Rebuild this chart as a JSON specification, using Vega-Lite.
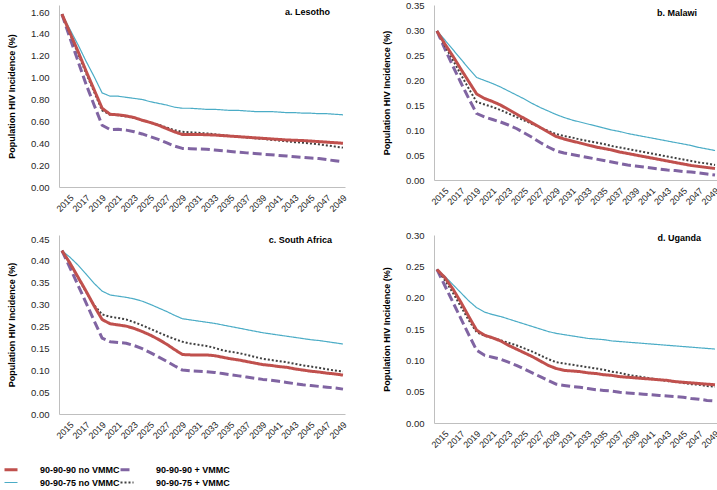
{
"$schema": "https://vega.github.io/schema/vega-lite/v6.json",
"background": "white",
"padding": {"left": 4, "top": 0, "right": 2, "bottom": 0},
"config": {
  "font": "Liberation Sans",
  "view": {"stroke": null},
  "axis": {"grid": false, "ticks": false, "labelOverlap": false, "tickCount": 60, "domainColor": "#bfbfbf", "domainWidth": 1, "labelFont": "Liberation Sans", "labelFontSize": 9.5, "labelColor": "#262626", "titleFont": "Liberation Sans", "titleFontSize": 9, "titleFontWeight": "bold", "titleColor": "#000000"},
  "axisY": {"labelPadding": 10, "titlePadding": 14},
  "axisX": {"labelPadding": 6, "labelAngle": -45, "labelFontSize": 9},
  "text": {"font": "Liberation Sans", "fontSize": 9, "fontWeight": "bold", "color": "#000000", "align": "right", "baseline": "middle"},
  "line": {"strokeCap": "butt", "strokeJoin": "round"}
},
"data": {"values": [
{"panel":"a","year":2015,"90-90-90 no VMMC":1.58,"90-90-90 + VMMC":1.58,"90-90-75 no VMMC":1.58,"90-90-75 + VMMC":1.58},
{"panel":"a","year":2016,"90-90-90 no VMMC":1.41,"90-90-90 + VMMC":1.36,"90-90-75 no VMMC":1.44,"90-90-75 + VMMC":1.40},
{"panel":"a","year":2017,"90-90-90 no VMMC":1.24,"90-90-90 + VMMC":1.15,"90-90-75 no VMMC":1.30,"90-90-75 + VMMC":1.22},
{"panel":"a","year":2018,"90-90-90 no VMMC":1.06,"90-90-90 + VMMC":0.94,"90-90-75 no VMMC":1.15,"90-90-75 + VMMC":1.04},
{"panel":"a","year":2019,"90-90-90 no VMMC":0.89,"90-90-90 + VMMC":0.75,"90-90-75 no VMMC":1.01,"90-90-75 + VMMC":0.87},
{"panel":"a","year":2020,"90-90-90 no VMMC":0.72,"90-90-90 + VMMC":0.565,"90-90-75 no VMMC":0.86,"90-90-75 + VMMC":0.70},
{"panel":"a","year":2021,"90-90-90 no VMMC":0.665,"90-90-90 + VMMC":0.525,"90-90-75 no VMMC":0.83,"90-90-75 + VMMC":0.66},
{"panel":"a","year":2022,"90-90-90 no VMMC":0.66,"90-90-90 + VMMC":0.528,"90-90-75 no VMMC":0.83,"90-90-75 + VMMC":0.655},
{"panel":"a","year":2023,"90-90-90 no VMMC":0.65,"90-90-90 + VMMC":0.52,"90-90-75 no VMMC":0.82,"90-90-75 + VMMC":0.645},
{"panel":"a","year":2024,"90-90-90 no VMMC":0.635,"90-90-90 + VMMC":0.505,"90-90-75 no VMMC":0.81,"90-90-75 + VMMC":0.63},
{"panel":"a","year":2025,"90-90-90 no VMMC":0.61,"90-90-90 + VMMC":0.485,"90-90-75 no VMMC":0.80,"90-90-75 + VMMC":0.61},
{"panel":"a","year":2026,"90-90-90 no VMMC":0.59,"90-90-90 + VMMC":0.46,"90-90-75 no VMMC":0.78,"90-90-75 + VMMC":0.59},
{"panel":"a","year":2027,"90-90-90 no VMMC":0.565,"90-90-90 + VMMC":0.435,"90-90-75 no VMMC":0.765,"90-90-75 + VMMC":0.57},
{"panel":"a","year":2028,"90-90-90 no VMMC":0.535,"90-90-90 + VMMC":0.405,"90-90-75 no VMMC":0.75,"90-90-75 + VMMC":0.545},
{"panel":"a","year":2029,"90-90-90 no VMMC":0.505,"90-90-90 + VMMC":0.375,"90-90-75 no VMMC":0.73,"90-90-75 + VMMC":0.52},
{"panel":"a","year":2030,"90-90-90 no VMMC":0.48,"90-90-90 + VMMC":0.353,"90-90-75 no VMMC":0.72,"90-90-75 + VMMC":0.505},
{"panel":"a","year":2031,"90-90-90 no VMMC":0.48,"90-90-90 + VMMC":0.35,"90-90-75 no VMMC":0.72,"90-90-75 + VMMC":0.50},
{"panel":"a","year":2032,"90-90-90 no VMMC":0.48,"90-90-90 + VMMC":0.348,"90-90-75 no VMMC":0.715,"90-90-75 + VMMC":0.495},
{"panel":"a","year":2033,"90-90-90 no VMMC":0.478,"90-90-90 + VMMC":0.345,"90-90-75 no VMMC":0.71,"90-90-75 + VMMC":0.49},
{"panel":"a","year":2034,"90-90-90 no VMMC":0.475,"90-90-90 + VMMC":0.338,"90-90-75 no VMMC":0.71,"90-90-75 + VMMC":0.482},
{"panel":"a","year":2035,"90-90-90 no VMMC":0.47,"90-90-90 + VMMC":0.332,"90-90-75 no VMMC":0.705,"90-90-75 + VMMC":0.475},
{"panel":"a","year":2036,"90-90-90 no VMMC":0.465,"90-90-90 + VMMC":0.325,"90-90-75 no VMMC":0.70,"90-90-75 + VMMC":0.467},
{"panel":"a","year":2037,"90-90-90 no VMMC":0.46,"90-90-90 + VMMC":0.318,"90-90-75 no VMMC":0.70,"90-90-75 + VMMC":0.46},
{"panel":"a","year":2038,"90-90-90 no VMMC":0.455,"90-90-90 + VMMC":0.312,"90-90-75 no VMMC":0.695,"90-90-75 + VMMC":0.452},
{"panel":"a","year":2039,"90-90-90 no VMMC":0.45,"90-90-90 + VMMC":0.306,"90-90-75 no VMMC":0.69,"90-90-75 + VMMC":0.445},
{"panel":"a","year":2040,"90-90-90 no VMMC":0.445,"90-90-90 + VMMC":0.30,"90-90-75 no VMMC":0.69,"90-90-75 + VMMC":0.44},
{"panel":"a","year":2041,"90-90-90 no VMMC":0.44,"90-90-90 + VMMC":0.295,"90-90-75 no VMMC":0.69,"90-90-75 + VMMC":0.432},
{"panel":"a","year":2042,"90-90-90 no VMMC":0.435,"90-90-90 + VMMC":0.289,"90-90-75 no VMMC":0.685,"90-90-75 + VMMC":0.425},
{"panel":"a","year":2043,"90-90-90 no VMMC":0.43,"90-90-90 + VMMC":0.283,"90-90-75 no VMMC":0.68,"90-90-75 + VMMC":0.418},
{"panel":"a","year":2044,"90-90-90 no VMMC":0.427,"90-90-90 + VMMC":0.277,"90-90-75 no VMMC":0.68,"90-90-75 + VMMC":0.41},
{"panel":"a","year":2045,"90-90-90 no VMMC":0.425,"90-90-90 + VMMC":0.271,"90-90-75 no VMMC":0.675,"90-90-75 + VMMC":0.405},
{"panel":"a","year":2046,"90-90-90 no VMMC":0.42,"90-90-90 + VMMC":0.265,"90-90-75 no VMMC":0.675,"90-90-75 + VMMC":0.398},
{"panel":"a","year":2047,"90-90-90 no VMMC":0.415,"90-90-90 + VMMC":0.26,"90-90-75 no VMMC":0.67,"90-90-75 + VMMC":0.39},
{"panel":"a","year":2048,"90-90-90 no VMMC":0.41,"90-90-90 + VMMC":0.25,"90-90-75 no VMMC":0.67,"90-90-75 + VMMC":0.38},
{"panel":"a","year":2049,"90-90-90 no VMMC":0.405,"90-90-90 + VMMC":0.24,"90-90-75 no VMMC":0.665,"90-90-75 + VMMC":0.37},
{"panel":"a","year":2050,"90-90-90 no VMMC":0.40,"90-90-90 + VMMC":0.23,"90-90-75 no VMMC":0.66,"90-90-75 + VMMC":0.36},
{"panel":"b","year":2015,"90-90-90 no VMMC":0.298,"90-90-90 + VMMC":0.298,"90-90-75 no VMMC":0.298,"90-90-75 + VMMC":0.298},
{"panel":"b","year":2016,"90-90-90 no VMMC":0.272,"90-90-90 + VMMC":0.262,"90-90-75 no VMMC":0.280,"90-90-75 + VMMC":0.268},
{"panel":"b","year":2017,"90-90-90 no VMMC":0.248,"90-90-90 + VMMC":0.228,"90-90-75 no VMMC":0.261,"90-90-75 + VMMC":0.240},
{"panel":"b","year":2018,"90-90-90 no VMMC":0.222,"90-90-90 + VMMC":0.195,"90-90-75 no VMMC":0.242,"90-90-75 + VMMC":0.211},
{"panel":"b","year":2019,"90-90-90 no VMMC":0.197,"90-90-90 + VMMC":0.163,"90-90-75 no VMMC":0.223,"90-90-75 + VMMC":0.183},
{"panel":"b","year":2020,"90-90-90 no VMMC":0.172,"90-90-90 + VMMC":0.133,"90-90-75 no VMMC":0.205,"90-90-75 + VMMC":0.156},
{"panel":"b","year":2021,"90-90-90 no VMMC":0.163,"90-90-90 + VMMC":0.126,"90-90-75 no VMMC":0.199,"90-90-75 + VMMC":0.151},
{"panel":"b","year":2022,"90-90-90 no VMMC":0.157,"90-90-90 + VMMC":0.121,"90-90-75 no VMMC":0.193,"90-90-75 + VMMC":0.146},
{"panel":"b","year":2023,"90-90-90 no VMMC":0.150,"90-90-90 + VMMC":0.116,"90-90-75 no VMMC":0.186,"90-90-75 + VMMC":0.140},
{"panel":"b","year":2024,"90-90-90 no VMMC":0.141,"90-90-90 + VMMC":0.110,"90-90-75 no VMMC":0.178,"90-90-75 + VMMC":0.133},
{"panel":"b","year":2025,"90-90-90 no VMMC":0.132,"90-90-90 + VMMC":0.103,"90-90-75 no VMMC":0.170,"90-90-75 + VMMC":0.126},
{"panel":"b","year":2026,"90-90-90 no VMMC":0.123,"90-90-90 + VMMC":0.094,"90-90-75 no VMMC":0.162,"90-90-75 + VMMC":0.119},
{"panel":"b","year":2027,"90-90-90 no VMMC":0.114,"90-90-90 + VMMC":0.085,"90-90-75 no VMMC":0.153,"90-90-75 + VMMC":0.112},
{"panel":"b","year":2028,"90-90-90 no VMMC":0.105,"90-90-90 + VMMC":0.075,"90-90-75 no VMMC":0.145,"90-90-75 + VMMC":0.105},
{"panel":"b","year":2029,"90-90-90 no VMMC":0.096,"90-90-90 + VMMC":0.066,"90-90-75 no VMMC":0.138,"90-90-75 + VMMC":0.098},
{"panel":"b","year":2030,"90-90-90 no VMMC":0.087,"90-90-90 + VMMC":0.058,"90-90-75 no VMMC":0.131,"90-90-75 + VMMC":0.092},
{"panel":"b","year":2031,"90-90-90 no VMMC":0.082,"90-90-90 + VMMC":0.054,"90-90-75 no VMMC":0.125,"90-90-75 + VMMC":0.088},
{"panel":"b","year":2032,"90-90-90 no VMMC":0.078,"90-90-90 + VMMC":0.051,"90-90-75 no VMMC":0.120,"90-90-75 + VMMC":0.085},
{"panel":"b","year":2033,"90-90-90 no VMMC":0.074,"90-90-90 + VMMC":0.048,"90-90-75 no VMMC":0.116,"90-90-75 + VMMC":0.081},
{"panel":"b","year":2034,"90-90-90 no VMMC":0.070,"90-90-90 + VMMC":0.045,"90-90-75 no VMMC":0.112,"90-90-75 + VMMC":0.078},
{"panel":"b","year":2035,"90-90-90 no VMMC":0.066,"90-90-90 + VMMC":0.042,"90-90-75 no VMMC":0.108,"90-90-75 + VMMC":0.075},
{"panel":"b","year":2036,"90-90-90 no VMMC":0.063,"90-90-90 + VMMC":0.039,"90-90-75 no VMMC":0.104,"90-90-75 + VMMC":0.072},
{"panel":"b","year":2037,"90-90-90 no VMMC":0.060,"90-90-90 + VMMC":0.036,"90-90-75 no VMMC":0.100,"90-90-75 + VMMC":0.068},
{"panel":"b","year":2038,"90-90-90 no VMMC":0.056,"90-90-90 + VMMC":0.033,"90-90-75 no VMMC":0.097,"90-90-75 + VMMC":0.065},
{"panel":"b","year":2039,"90-90-90 no VMMC":0.053,"90-90-90 + VMMC":0.030,"90-90-75 no VMMC":0.093,"90-90-75 + VMMC":0.062},
{"panel":"b","year":2040,"90-90-90 no VMMC":0.050,"90-90-90 + VMMC":0.028,"90-90-75 no VMMC":0.090,"90-90-75 + VMMC":0.059},
{"panel":"b","year":2041,"90-90-90 no VMMC":0.047,"90-90-90 + VMMC":0.026,"90-90-75 no VMMC":0.087,"90-90-75 + VMMC":0.056},
{"panel":"b","year":2042,"90-90-90 no VMMC":0.044,"90-90-90 + VMMC":0.024,"90-90-75 no VMMC":0.084,"90-90-75 + VMMC":0.053},
{"panel":"b","year":2043,"90-90-90 no VMMC":0.041,"90-90-90 + VMMC":0.022,"90-90-75 no VMMC":0.081,"90-90-75 + VMMC":0.050},
{"panel":"b","year":2044,"90-90-90 no VMMC":0.038,"90-90-90 + VMMC":0.020,"90-90-75 no VMMC":0.078,"90-90-75 + VMMC":0.047},
{"panel":"b","year":2045,"90-90-90 no VMMC":0.035,"90-90-90 + VMMC":0.019,"90-90-75 no VMMC":0.075,"90-90-75 + VMMC":0.044},
{"panel":"b","year":2046,"90-90-90 no VMMC":0.032,"90-90-90 + VMMC":0.017,"90-90-75 no VMMC":0.072,"90-90-75 + VMMC":0.041},
{"panel":"b","year":2047,"90-90-90 no VMMC":0.029,"90-90-90 + VMMC":0.016,"90-90-75 no VMMC":0.069,"90-90-75 + VMMC":0.038},
{"panel":"b","year":2048,"90-90-90 no VMMC":0.027,"90-90-90 + VMMC":0.014,"90-90-75 no VMMC":0.065,"90-90-75 + VMMC":0.035},
{"panel":"b","year":2049,"90-90-90 no VMMC":0.025,"90-90-90 + VMMC":0.012,"90-90-75 no VMMC":0.062,"90-90-75 + VMMC":0.033},
{"panel":"b","year":2050,"90-90-90 no VMMC":0.023,"90-90-90 + VMMC":0.010,"90-90-75 no VMMC":0.059,"90-90-75 + VMMC":0.030},
{"panel":"c","year":2015,"90-90-90 no VMMC":0.420,"90-90-90 + VMMC":0.420,"90-90-75 no VMMC":0.420,"90-90-75 + VMMC":0.420},
{"panel":"c","year":2016,"90-90-90 no VMMC":0.388,"90-90-90 + VMMC":0.376,"90-90-75 no VMMC":0.403,"90-90-75 + VMMC":0.386},
{"panel":"c","year":2017,"90-90-90 no VMMC":0.352,"90-90-90 + VMMC":0.331,"90-90-75 no VMMC":0.383,"90-90-75 + VMMC":0.350},
{"panel":"c","year":2018,"90-90-90 no VMMC":0.316,"90-90-90 + VMMC":0.286,"90-90-75 no VMMC":0.360,"90-90-75 + VMMC":0.314},
{"panel":"c","year":2019,"90-90-90 no VMMC":0.278,"90-90-90 + VMMC":0.240,"90-90-75 no VMMC":0.336,"90-90-75 + VMMC":0.280},
{"panel":"c","year":2020,"90-90-90 no VMMC":0.243,"90-90-90 + VMMC":0.195,"90-90-75 no VMMC":0.316,"90-90-75 + VMMC":0.256},
{"panel":"c","year":2021,"90-90-90 no VMMC":0.232,"90-90-90 + VMMC":0.186,"90-90-75 no VMMC":0.306,"90-90-75 + VMMC":0.250},
{"panel":"c","year":2022,"90-90-90 no VMMC":0.229,"90-90-90 + VMMC":0.184,"90-90-75 no VMMC":0.303,"90-90-75 + VMMC":0.247},
{"panel":"c","year":2023,"90-90-90 no VMMC":0.226,"90-90-90 + VMMC":0.182,"90-90-75 no VMMC":0.300,"90-90-75 + VMMC":0.243},
{"panel":"c","year":2024,"90-90-90 no VMMC":0.220,"90-90-90 + VMMC":0.176,"90-90-75 no VMMC":0.296,"90-90-75 + VMMC":0.236},
{"panel":"c","year":2025,"90-90-90 no VMMC":0.212,"90-90-90 + VMMC":0.168,"90-90-75 no VMMC":0.290,"90-90-75 + VMMC":0.228},
{"panel":"c","year":2026,"90-90-90 no VMMC":0.203,"90-90-90 + VMMC":0.158,"90-90-75 no VMMC":0.282,"90-90-75 + VMMC":0.219},
{"panel":"c","year":2027,"90-90-90 no VMMC":0.192,"90-90-90 + VMMC":0.147,"90-90-75 no VMMC":0.273,"90-90-75 + VMMC":0.210},
{"panel":"c","year":2028,"90-90-90 no VMMC":0.180,"90-90-90 + VMMC":0.136,"90-90-75 no VMMC":0.264,"90-90-75 + VMMC":0.201},
{"panel":"c","year":2029,"90-90-90 no VMMC":0.166,"90-90-90 + VMMC":0.124,"90-90-75 no VMMC":0.254,"90-90-75 + VMMC":0.193},
{"panel":"c","year":2030,"90-90-90 no VMMC":0.153,"90-90-90 + VMMC":0.113,"90-90-75 no VMMC":0.245,"90-90-75 + VMMC":0.186},
{"panel":"c","year":2031,"90-90-90 no VMMC":0.152,"90-90-90 + VMMC":0.111,"90-90-75 no VMMC":0.242,"90-90-75 + VMMC":0.181},
{"panel":"c","year":2032,"90-90-90 no VMMC":0.152,"90-90-90 + VMMC":0.110,"90-90-75 no VMMC":0.239,"90-90-75 + VMMC":0.178},
{"panel":"c","year":2033,"90-90-90 no VMMC":0.152,"90-90-90 + VMMC":0.109,"90-90-75 no VMMC":0.236,"90-90-75 + VMMC":0.175},
{"panel":"c","year":2034,"90-90-90 no VMMC":0.150,"90-90-90 + VMMC":0.107,"90-90-75 no VMMC":0.233,"90-90-75 + VMMC":0.170},
{"panel":"c","year":2035,"90-90-90 no VMMC":0.146,"90-90-90 + VMMC":0.104,"90-90-75 no VMMC":0.229,"90-90-75 + VMMC":0.164},
{"panel":"c","year":2036,"90-90-90 no VMMC":0.142,"90-90-90 + VMMC":0.101,"90-90-75 no VMMC":0.225,"90-90-75 + VMMC":0.160},
{"panel":"c","year":2037,"90-90-90 no VMMC":0.139,"90-90-90 + VMMC":0.098,"90-90-75 no VMMC":0.221,"90-90-75 + VMMC":0.157},
{"panel":"c","year":2038,"90-90-90 no VMMC":0.135,"90-90-90 + VMMC":0.095,"90-90-75 no VMMC":0.217,"90-90-75 + VMMC":0.152},
{"panel":"c","year":2039,"90-90-90 no VMMC":0.131,"90-90-90 + VMMC":0.092,"90-90-75 no VMMC":0.213,"90-90-75 + VMMC":0.147},
{"panel":"c","year":2040,"90-90-90 no VMMC":0.127,"90-90-90 + VMMC":0.089,"90-90-75 no VMMC":0.209,"90-90-75 + VMMC":0.142},
{"panel":"c","year":2041,"90-90-90 no VMMC":0.125,"90-90-90 + VMMC":0.087,"90-90-75 no VMMC":0.206,"90-90-75 + VMMC":0.139},
{"panel":"c","year":2042,"90-90-90 no VMMC":0.122,"90-90-90 + VMMC":0.084,"90-90-75 no VMMC":0.203,"90-90-75 + VMMC":0.136},
{"panel":"c","year":2043,"90-90-90 no VMMC":0.120,"90-90-90 + VMMC":0.081,"90-90-75 no VMMC":0.200,"90-90-75 + VMMC":0.133},
{"panel":"c","year":2044,"90-90-90 no VMMC":0.116,"90-90-90 + VMMC":0.078,"90-90-75 no VMMC":0.197,"90-90-75 + VMMC":0.129},
{"panel":"c","year":2045,"90-90-90 no VMMC":0.113,"90-90-90 + VMMC":0.075,"90-90-75 no VMMC":0.194,"90-90-75 + VMMC":0.125},
{"panel":"c","year":2046,"90-90-90 no VMMC":0.110,"90-90-90 + VMMC":0.073,"90-90-75 no VMMC":0.191,"90-90-75 + VMMC":0.122},
{"panel":"c","year":2047,"90-90-90 no VMMC":0.108,"90-90-90 + VMMC":0.071,"90-90-75 no VMMC":0.189,"90-90-75 + VMMC":0.119},
{"panel":"c","year":2048,"90-90-90 no VMMC":0.105,"90-90-90 + VMMC":0.069,"90-90-75 no VMMC":0.186,"90-90-75 + VMMC":0.115},
{"panel":"c","year":2049,"90-90-90 no VMMC":0.103,"90-90-90 + VMMC":0.067,"90-90-75 no VMMC":0.183,"90-90-75 + VMMC":0.112},
{"panel":"c","year":2050,"90-90-90 no VMMC":0.100,"90-90-90 + VMMC":0.064,"90-90-75 no VMMC":0.180,"90-90-75 + VMMC":0.109},
{"panel":"d","year":2015,"90-90-90 no VMMC":0.245,"90-90-90 + VMMC":0.245,"90-90-75 no VMMC":0.245,"90-90-75 + VMMC":0.245},
{"panel":"d","year":2016,"90-90-90 no VMMC":0.232,"90-90-90 + VMMC":0.219,"90-90-75 no VMMC":0.234,"90-90-75 + VMMC":0.228},
{"panel":"d","year":2017,"90-90-90 no VMMC":0.214,"90-90-90 + VMMC":0.193,"90-90-75 no VMMC":0.221,"90-90-75 + VMMC":0.208},
{"panel":"d","year":2018,"90-90-90 no VMMC":0.193,"90-90-90 + VMMC":0.167,"90-90-75 no VMMC":0.208,"90-90-75 + VMMC":0.186},
{"panel":"d","year":2019,"90-90-90 no VMMC":0.170,"90-90-90 + VMMC":0.141,"90-90-75 no VMMC":0.195,"90-90-75 + VMMC":0.164},
{"panel":"d","year":2020,"90-90-90 no VMMC":0.148,"90-90-90 + VMMC":0.116,"90-90-75 no VMMC":0.184,"90-90-75 + VMMC":0.145},
{"panel":"d","year":2021,"90-90-90 no VMMC":0.140,"90-90-90 + VMMC":0.108,"90-90-75 no VMMC":0.177,"90-90-75 + VMMC":0.139},
{"panel":"d","year":2022,"90-90-90 no VMMC":0.136,"90-90-90 + VMMC":0.105,"90-90-75 no VMMC":0.173,"90-90-75 + VMMC":0.136},
{"panel":"d","year":2023,"90-90-90 no VMMC":0.131,"90-90-90 + VMMC":0.102,"90-90-75 no VMMC":0.170,"90-90-75 + VMMC":0.132},
{"panel":"d","year":2024,"90-90-90 no VMMC":0.124,"90-90-90 + VMMC":0.097,"90-90-75 no VMMC":0.166,"90-90-75 + VMMC":0.128},
{"panel":"d","year":2025,"90-90-90 no VMMC":0.118,"90-90-90 + VMMC":0.092,"90-90-75 no VMMC":0.162,"90-90-75 + VMMC":0.124},
{"panel":"d","year":2026,"90-90-90 no VMMC":0.112,"90-90-90 + VMMC":0.086,"90-90-75 no VMMC":0.158,"90-90-75 + VMMC":0.119},
{"panel":"d","year":2027,"90-90-90 no VMMC":0.106,"90-90-90 + VMMC":0.080,"90-90-75 no VMMC":0.154,"90-90-75 + VMMC":0.114},
{"panel":"d","year":2028,"90-90-90 no VMMC":0.099,"90-90-90 + VMMC":0.074,"90-90-75 no VMMC":0.150,"90-90-75 + VMMC":0.108},
{"panel":"d","year":2029,"90-90-90 no VMMC":0.092,"90-90-90 + VMMC":0.068,"90-90-75 no VMMC":0.146,"90-90-75 + VMMC":0.102},
{"panel":"d","year":2030,"90-90-90 no VMMC":0.087,"90-90-90 + VMMC":0.062,"90-90-75 no VMMC":0.143,"90-90-75 + VMMC":0.097},
{"panel":"d","year":2031,"90-90-90 no VMMC":0.084,"90-90-90 + VMMC":0.060,"90-90-75 no VMMC":0.141,"90-90-75 + VMMC":0.095},
{"panel":"d","year":2032,"90-90-90 no VMMC":0.083,"90-90-90 + VMMC":0.058,"90-90-75 no VMMC":0.139,"90-90-75 + VMMC":0.093},
{"panel":"d","year":2033,"90-90-90 no VMMC":0.082,"90-90-90 + VMMC":0.057,"90-90-75 no VMMC":0.137,"90-90-75 + VMMC":0.091},
{"panel":"d","year":2034,"90-90-90 no VMMC":0.080,"90-90-90 + VMMC":0.055,"90-90-75 no VMMC":0.135,"90-90-75 + VMMC":0.089},
{"panel":"d","year":2035,"90-90-90 no VMMC":0.079,"90-90-90 + VMMC":0.053,"90-90-75 no VMMC":0.134,"90-90-75 + VMMC":0.087},
{"panel":"d","year":2036,"90-90-90 no VMMC":0.077,"90-90-90 + VMMC":0.052,"90-90-75 no VMMC":0.133,"90-90-75 + VMMC":0.085},
{"panel":"d","year":2037,"90-90-90 no VMMC":0.076,"90-90-90 + VMMC":0.051,"90-90-75 no VMMC":0.131,"90-90-75 + VMMC":0.082},
{"panel":"d","year":2038,"90-90-90 no VMMC":0.074,"90-90-90 + VMMC":0.049,"90-90-75 no VMMC":0.130,"90-90-75 + VMMC":0.080},
{"panel":"d","year":2039,"90-90-90 no VMMC":0.073,"90-90-90 + VMMC":0.048,"90-90-75 no VMMC":0.129,"90-90-75 + VMMC":0.077},
{"panel":"d","year":2040,"90-90-90 no VMMC":0.072,"90-90-90 + VMMC":0.047,"90-90-75 no VMMC":0.128,"90-90-75 + VMMC":0.075},
{"panel":"d","year":2041,"90-90-90 no VMMC":0.071,"90-90-90 + VMMC":0.046,"90-90-75 no VMMC":0.127,"90-90-75 + VMMC":0.073},
{"panel":"d","year":2042,"90-90-90 no VMMC":0.070,"90-90-90 + VMMC":0.045,"90-90-75 no VMMC":0.126,"90-90-75 + VMMC":0.071},
{"panel":"d","year":2043,"90-90-90 no VMMC":0.069,"90-90-90 + VMMC":0.044,"90-90-75 no VMMC":0.125,"90-90-75 + VMMC":0.069},
{"panel":"d","year":2044,"90-90-90 no VMMC":0.068,"90-90-90 + VMMC":0.043,"90-90-75 no VMMC":0.124,"90-90-75 + VMMC":0.067},
{"panel":"d","year":2045,"90-90-90 no VMMC":0.066,"90-90-90 + VMMC":0.042,"90-90-75 no VMMC":0.123,"90-90-75 + VMMC":0.066},
{"panel":"d","year":2046,"90-90-90 no VMMC":0.065,"90-90-90 + VMMC":0.041,"90-90-75 no VMMC":0.122,"90-90-75 + VMMC":0.064},
{"panel":"d","year":2047,"90-90-90 no VMMC":0.064,"90-90-90 + VMMC":0.039,"90-90-75 no VMMC":0.121,"90-90-75 + VMMC":0.062},
{"panel":"d","year":2048,"90-90-90 no VMMC":0.063,"90-90-90 + VMMC":0.038,"90-90-75 no VMMC":0.120,"90-90-75 + VMMC":0.061},
{"panel":"d","year":2049,"90-90-90 no VMMC":0.062,"90-90-90 + VMMC":0.036,"90-90-75 no VMMC":0.119,"90-90-75 + VMMC":0.059},
{"panel":"d","year":2050,"90-90-90 no VMMC":0.061,"90-90-90 + VMMC":0.035,"90-90-75 no VMMC":0.118,"90-90-75 + VMMC":0.058}
]},
"transform": [{"fold": ["90-90-75 no VMMC", "90-90-90 + VMMC", "90-90-75 + VMMC", "90-90-90 no VMMC"], "as": ["scenario", "incidence"]}],
"columns": 2,
"spacing": {"row": 16, "column": 33},
"concat": [
{
  "width": 286, "height": 182,
  "layer": [
    {
      "transform": [{"filter": "datum.panel === 'a'"}],
      "mark": {"type": "line"},
      "encoding": {
        "x": {"field": "year", "type": "quantitative", "scale": {"domain": [2014.63, 2050.25], "nice": false, "zero": false}, "axis": {"title": null, "format": "d", "labelOffset": 7, "labelOverlap": false, "tickCount": 60, "values": [2015,2017,2019,2021,2023,2025,2027,2029,2031,2033,2035,2037,2039,2041,2043,2045,2047,2049]}},
        "y": {"field": "incidence", "type": "quantitative", "scale": {"domain": [0, 1.664], "nice": false}, "axis": {"title": "Population HIV Incidence (%)", "format": ".2f", "labelOverlap": false, "tickCount": 60, "values": [0,0.2,0.4,0.6,0.8,1,1.2,1.4,1.6]}},
        "color": {"field": "scenario", "type": "nominal", "scale": {"domain": ["90-90-90 no VMMC", "90-90-90 + VMMC", "90-90-75 no VMMC", "90-90-75 + VMMC"], "range": ["#c0504d", "#8064a2", "#4bacc6", "#404040"]},
          "legend": {"title": null, "orient": "none", "legendX": -54.5, "legendY": 458, "direction": "horizontal", "columns": 2, "symbolType": "M-1.3,0H1.3", "symbolSize": 100, "labelFont": "Liberation Sans", "labelFontSize": 9, "labelFontWeight": "bold", "labelColor": "#000000", "labelOffset": 22.5, "columnPadding": -6, "rowPadding": 1.5}},
        "strokeDash": {"field": "scenario", "type": "nominal", "scale": {"type": "ordinal", "domain": ["90-90-90 no VMMC", "90-90-90 + VMMC", "90-90-75 no VMMC", "90-90-75 + VMMC"], "range": [[1,0],[9,4],[1,0],[2,2]]}},
        "strokeWidth": {"field": "scenario", "type": "nominal", "scale": {"type": "ordinal", "domain": ["90-90-90 no VMMC", "90-90-90 + VMMC", "90-90-75 no VMMC", "90-90-75 + VMMC"], "range": [3, 3, 1.2, 2]}}
      }
    },
    {
      "data": {"values": [{"label": "a. Lesotho"}]},
      "mark": {"type": "text", "dx": -15, "dy": 7},
      "encoding": {"x": {"datum": 2050.25, "type": "quantitative"}, "y": {"datum": 1.664, "type": "quantitative"}, "text": {"field": "label"}}
    }
  ]
},
{
  "width": 283, "height": 175,
  "layer": [
    {
      "transform": [{"filter": "datum.panel === 'b'"}],
      "mark": {"type": "line"},
      "encoding": {
        "x": {"field": "year", "type": "quantitative", "scale": {"domain": [2014.63, 2050.25], "nice": false, "zero": false}, "axis": {"title": null, "format": "d", "labelOffset": 7, "labelOverlap": false, "tickCount": 60, "values": [2015,2017,2019,2021,2023,2025,2027,2029,2031,2033,2035,2037,2039,2041,2043,2045,2047,2049]}},
        "y": {"field": "incidence", "type": "quantitative", "scale": {"domain": [0, 0.35], "nice": false}, "axis": {"title": "Population HIV Incidence (%)", "format": ".2f", "labelOverlap": false, "tickCount": 60, "values": [0,0.05,0.1,0.15,0.2,0.25,0.3,0.35]}},
        "color": {"field": "scenario", "type": "nominal", "scale": {"domain": ["90-90-90 no VMMC", "90-90-90 + VMMC", "90-90-75 no VMMC", "90-90-75 + VMMC"], "range": ["#c0504d", "#8064a2", "#4bacc6", "#404040"]}},
        "strokeDash": {"field": "scenario", "type": "nominal", "scale": {"type": "ordinal", "domain": ["90-90-90 no VMMC", "90-90-90 + VMMC", "90-90-75 no VMMC", "90-90-75 + VMMC"], "range": [[1,0],[9,4],[1,0],[2,2]]}},
        "strokeWidth": {"field": "scenario", "type": "nominal", "scale": {"type": "ordinal", "domain": ["90-90-90 no VMMC", "90-90-90 + VMMC", "90-90-75 no VMMC", "90-90-75 + VMMC"], "range": [3, 3, 1.2, 2]}}
      }
    },
    {
      "data": {"values": [{"label": "b. Malawi"}]},
      "mark": {"type": "text", "dx": -20, "dy": 8},
      "encoding": {"x": {"datum": 2050.25, "type": "quantitative"}, "y": {"datum": 0.35, "type": "quantitative"}, "text": {"field": "label"}}
    }
  ]
},
{
  "width": 286, "height": 179,
  "layer": [
    {
      "transform": [{"filter": "datum.panel === 'c'"}],
      "mark": {"type": "line"},
      "encoding": {
        "x": {"field": "year", "type": "quantitative", "scale": {"domain": [2014.63, 2050.25], "nice": false, "zero": false}, "axis": {"title": null, "format": "d", "labelOffset": 7, "labelOverlap": false, "tickCount": 60, "values": [2015,2017,2019,2021,2023,2025,2027,2029,2031,2033,2035,2037,2039,2041,2043,2045,2047,2049]}},
        "y": {"field": "incidence", "type": "quantitative", "scale": {"domain": [0, 0.4603], "nice": false}, "axis": {"title": "Population HIV Incidence (%)", "labelOverlap": false, "tickCount": 60, "values": [0,0.05625,0.1125,0.16875,0.225,0.28125,0.3375,0.39375,0.45], "labelExpr": "['0.00','0.05','0.10','0.15','0.25','0.30','0.35','0.40','0.45'][round(datum.value/0.05625)]"}},
        "color": {"field": "scenario", "type": "nominal", "scale": {"domain": ["90-90-90 no VMMC", "90-90-90 + VMMC", "90-90-75 no VMMC", "90-90-75 + VMMC"], "range": ["#c0504d", "#8064a2", "#4bacc6", "#404040"]}},
        "strokeDash": {"field": "scenario", "type": "nominal", "scale": {"type": "ordinal", "domain": ["90-90-90 no VMMC", "90-90-90 + VMMC", "90-90-75 no VMMC", "90-90-75 + VMMC"], "range": [[1,0],[9,4],[1,0],[2,2]]}},
        "strokeWidth": {"field": "scenario", "type": "nominal", "scale": {"type": "ordinal", "domain": ["90-90-90 no VMMC", "90-90-90 + VMMC", "90-90-75 no VMMC", "90-90-75 + VMMC"], "range": [3, 3, 1.2, 2]}}
      }
    },
    {
      "data": {"values": [{"label": "c. South Africa"}]},
      "mark": {"type": "text", "dx": -13, "dy": 5},
      "encoding": {"x": {"datum": 2050.25, "type": "quantitative"}, "y": {"datum": 0.4603, "type": "quantitative"}, "text": {"field": "label"}}
    }
  ]
},
{
  "width": 283, "height": 188,
  "layer": [
    {
      "transform": [{"filter": "datum.panel === 'd'"}],
      "mark": {"type": "line"},
      "encoding": {
        "x": {"field": "year", "type": "quantitative", "scale": {"domain": [2014.63, 2050.25], "nice": false, "zero": false}, "axis": {"title": null, "format": "d", "labelOffset": 7, "labelOverlap": false, "tickCount": 60, "values": [2015,2017,2019,2021,2023,2025,2027,2029,2031,2033,2035,2037,2039,2041,2043,2045,2047,2049]}},
        "y": {"field": "incidence", "type": "quantitative", "scale": {"domain": [0, 0.3], "nice": false}, "axis": {"title": "Population HIV Incidence (%)", "format": ".2f", "labelOverlap": false, "tickCount": 60, "values": [0,0.05,0.1,0.15,0.2,0.25,0.3]}},
        "color": {"field": "scenario", "type": "nominal", "scale": {"domain": ["90-90-90 no VMMC", "90-90-90 + VMMC", "90-90-75 no VMMC", "90-90-75 + VMMC"], "range": ["#c0504d", "#8064a2", "#4bacc6", "#404040"]}},
        "strokeDash": {"field": "scenario", "type": "nominal", "scale": {"type": "ordinal", "domain": ["90-90-90 no VMMC", "90-90-90 + VMMC", "90-90-75 no VMMC", "90-90-75 + VMMC"], "range": [[1,0],[9,4],[1,0],[2,2]]}},
        "strokeWidth": {"field": "scenario", "type": "nominal", "scale": {"type": "ordinal", "domain": ["90-90-90 no VMMC", "90-90-90 + VMMC", "90-90-75 no VMMC", "90-90-75 + VMMC"], "range": [3, 3, 1.2, 2]}}
      }
    },
    {
      "data": {"values": [{"label": "d. Uganda"}]},
      "mark": {"type": "text", "dx": -16, "dy": 3},
      "encoding": {"x": {"datum": 2050.25, "type": "quantitative"}, "y": {"datum": 0.3, "type": "quantitative"}, "text": {"field": "label"}}
    }
  ]
}
]
}
